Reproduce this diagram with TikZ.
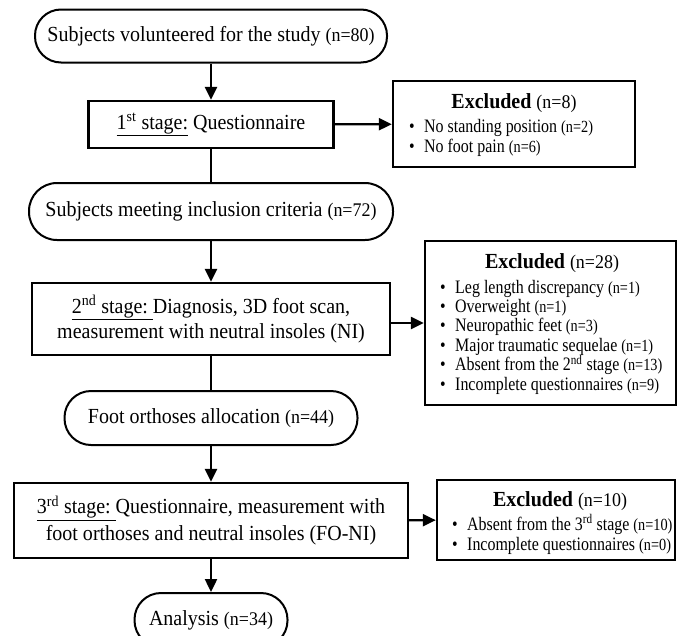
\documentclass[tikz,border=0pt]{standalone}
\usepackage{fontspec}
\setmainfont{Liberation Serif}[FakeStretch=0.93]
\newfontfamily\itemfont{Liberation Serif}[FakeStretch=0.84]
\usetikzlibrary{arrows.meta}
\newcommand{\mainfs}{\fontsize{21.5}{25}\selectfont}
\newcommand{\nbig}[1]{{\fontsize{19.3}{25}\selectfont(n=#1)}}
\newcommand{\nsml}[1]{{\fontsize{17}{20}\selectfont(n=#1)}}
\newcommand{\itm}{\makebox[15pt][l]{\textbullet}}
\tikzset{
  stadium/.style={draw, line width=2pt, inner sep=0pt, align=center, font=\mainfs},
  stagebox/.style={draw, line width=2.4pt, inner sep=0pt, align=center, font=\mainfs},
  exbox/.style={draw, line width=2.4pt, inner sep=0pt},
  extitle/.style={anchor=base, inner sep=0pt, font=\fontsize{21.5}{24}\selectfont},
  exitem/.style={anchor=base west, inner sep=0pt, font=\itemfont\fontsize{19}{20}\selectfont},
  arr/.style={line width=2.4pt, -{Triangle[length=13pt,width=12pt]}},
  plain/.style={line width=2.4pt}
}
\begin{document}
\begin{tikzpicture}[x=1pt,y=-1pt]
\fill[white] (0,0) rectangle (677,635);
\useasboundingbox (0,0) rectangle (677,635);

% main column
\node[stadium, minimum width=352pt, minimum height=53pt, rounded corners=26pt] (n1) at (211,36)
  {Subjects volunteered for the study \nbig{80}};
\node[stagebox, minimum width=245pt, minimum height=47pt] (n2) at (211,124.5)
  {\underline{1\textsuperscript{st} stage:}\ Questionnaire};
\node[stadium, minimum width=364pt, minimum height=57pt, rounded corners=28pt] (n3) at (211,211.5)
  {Subjects meeting inclusion criteria \nbig{72}};
\node[stagebox, minimum width=358pt, minimum height=72pt] (n4) at (211,319)
  {\underline{2\textsuperscript{nd} stage:\ }Diagnosis, 3D foot scan,\\measurement with neutral insoles (NI)};
\node[stadium, minimum width=293pt, minimum height=54pt, rounded corners=26.5pt] (n5) at (211,418)
  {Foot orthoses allocation \nbig{44}};
\node[stagebox, minimum width=394pt, minimum height=75pt, font=\fontsize{21.5}{27}\selectfont] (n6) at (211,520.5)
  {\underline{3\textsuperscript{rd} stage:\ }Questionnaire, measurement with\\foot orthoses and neutral insoles (FO-NI)};
\node[stadium, minimum width=153pt, minimum height=54pt, rounded corners=26.5pt] (n7) at (211,620)
  {Analysis \nbig{34}};

% exclusion boxes
\node[exbox, minimum width=242pt, minimum height=86pt] (e1) at (514,124) {};
\node[extitle] (e1t) at (514,108) {\textbf{Excluded} \nbig{8}};
\node[exitem] (e1a) at (409,132) {\itm No standing position \nsml{2}};
\node[exitem] (e1b) at (409,152) {\itm No foot pain \nsml{6}};

\node[exbox, minimum width=251pt, minimum height=164pt] (e2) at (550.5,323) {};
\node[extitle] (e2t) at (552,268) {\textbf{Excluded} \nbig{28}};
\node[exitem] (e2a) at (440,293) {\itm Leg length discrepancy \nsml{1}};
\node[exitem] (e2b) at (440,312.4) {\itm Overweight \nsml{1}};
\node[exitem] (e2c) at (440,331.8) {\itm Neuropathic feet \nsml{3}};
\node[exitem] (e2d) at (440,351.2) {\itm Major traumatic sequelae \nsml{1}};
\node[exitem] (e2e) at (440,370.6) {\itm Absent from the 2\textsuperscript{nd} stage \nsml{13}};
\node[exitem] (e2f) at (440,390) {\itm Incomplete questionnaires \nsml{9}};

\node[exbox, minimum width=238pt, minimum height=80pt] (e3) at (556,520) {};
\node[extitle] (e3t) at (560,506) {\textbf{Excluded} \nbig{10}};
\node[exitem] (e3a) at (452,530) {\itm Absent from the 3\textsuperscript{rd} stage \nsml{10}};
\node[exitem] (e3b) at (452,550) {\itm Incomplete questionnaires \nsml{0}};

% connectors
\draw[arr] (n1) -- (n2);
\draw[plain] (n2) -- (n3);
\draw[arr] (n3) -- (n4);
\draw[plain] (n4) -- (n5);
\draw[arr] (n5) -- (n6);
\draw[arr] (n6) -- (n7);
\draw[arr] (n2) -- (e1);
\draw[arr] (n4.east |- e2.west) -- (e2.west);
\draw[arr] (n6) -- (e3);
\end{tikzpicture}
\end{document}
